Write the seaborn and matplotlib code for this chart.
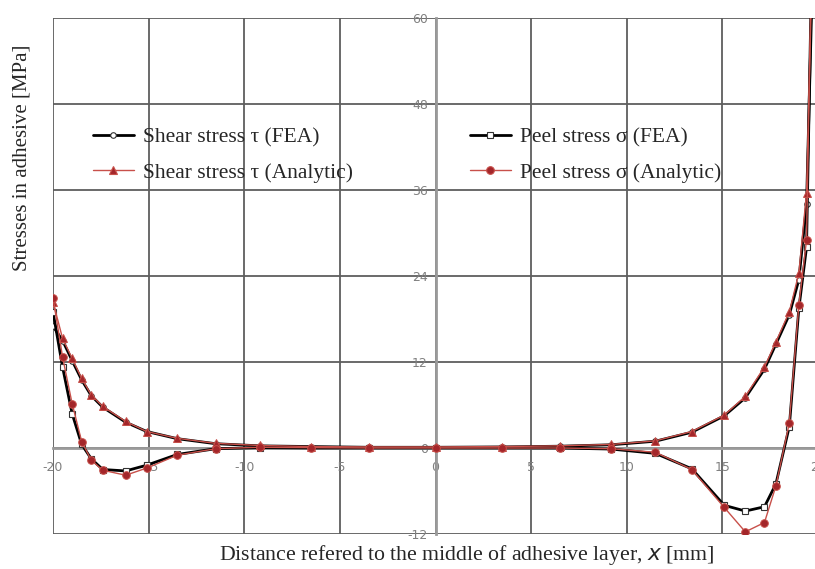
import matplotlib
matplotlib.use("Agg")
import matplotlib.pyplot as plt
from matplotlib.lines import Line2D
import seaborn as sns
import pandas as pd

# Position along the adhesive layer [mm]
x_mm = [-20, -19.5, -19, -18.5, -18, -17.4, -16.2, -15.1, -13.5, -11.5, -9.2,
        -6.5, -3.5, 0, 3.5, 6.5, 9.2, 11.5, 13.4, 15.1, 16.2, 17.2, 17.8,
        18.5, 19.0, 19.4, 20]

# Shear stress tau [MPa]
shear_fea = [17.0, 15.0, 12.2, 9.5, 7.3, 5.7, 3.6, 2.3, 1.3, 0.6, 0.3, 0.2,
             0.1, 0.1, 0.15, 0.25, 0.45, 0.95, 2.2, 4.5, 7.0, 11.0, 14.5,
             18.6, 23.5, 34.0, 95]
shear_analytic = [20.4, 15.3, 12.5, 9.7, 7.4, 5.8, 3.7, 2.3, 1.35, 0.65, 0.35,
                  0.2, 0.15, 0.15, 0.2, 0.3, 0.5, 1.0, 2.3, 4.6, 7.2, 11.3,
                  14.8, 19.0, 24.4, 35.6, 100]

# Peel stress sigma [MPa]
peel_fea = [19.0, 11.3, 4.8, 0.5, -1.5, -3.0, -3.2, -2.4, -0.9, -0.1, 0.05,
            0.0, 0.0, 0.0, 0.0, 0.0, -0.15, -0.75, -2.9, -8.0, -8.8, -8.2,
            -5.0, 3.0, 19.5, 28.0, 115]
peel_analytic = [21.0, 12.7, 6.2, 0.9, -1.7, -3.1, -3.8, -2.8, -1.0, -0.1,
                 0.1, 0.05, 0.0, 0.0, 0.0, 0.0, -0.1, -0.6, -3.0, -8.3, -11.7,
                 -10.4, -5.3, 3.5, 20.0, 29.0, 120]

x_ticks = [-20, -15, -10, -5, 0, 5, 10, 15, 20]
y_ticks = [-12, 0, 12, 24, 36, 48, 60]

labels = {
    "shear_fea": "Shear stress \u03c4 (FEA)",
    "shear_an": "Shear stress \u03c4 (Analytic)",
    "peel_fea": "Peel stress \u03c3 (FEA)",
    "peel_an": "Peel stress \u03c3 (Analytic)",
}

sns.set_theme(style="white")
plt.rcParams["font.family"] = ["Liberation Serif", "DejaVu Serif"]
plt.rcParams["axes.unicode_minus"] = False

RED_LINE = "#c8504a"
RED_FILL = "#a3262a"
GRID = "#5e5e5e"

fig = plt.figure(figsize=(8.15, 5.69), dpi=100)
ax = fig.add_axes([53 / 815, 35 / 569, 765 / 815, 516 / 569])

df = pd.DataFrame({"x": x_mm, "shear_fea": shear_fea, "shear_an": shear_analytic,
                   "peel_fea": peel_fea, "peel_an": peel_analytic})

# FEA curves: heavy black lines with open markers
sns.lineplot(data=df, x="x", y="shear_fea", ax=ax, sort=False, estimator=None,
             color="black", lw=2.0, marker="o", ms=4, mfc="white",
             mec="#333333", mew=0.8, zorder=3)
sns.lineplot(data=df, x="x", y="peel_fea", ax=ax, sort=False, estimator=None,
             color="black", lw=2.0, marker="s", ms=5, mfc="white",
             mec="#333333", mew=0.8, zorder=3)
# Analytic curves: thin red lines with filled markers
sns.lineplot(data=df, x="x", y="shear_an", ax=ax, sort=False, estimator=None,
             color=RED_LINE, lw=1.0, marker="^", ms=6, mfc=RED_FILL,
             mec=RED_LINE, mew=0.7, zorder=4)
sns.lineplot(data=df, x="x", y="peel_an", ax=ax, sort=False, estimator=None,
             color=RED_LINE, lw=1.0, marker="o", ms=5.5, mfc=RED_FILL,
             mec=RED_LINE, mew=0.7, zorder=4)

ax.set_xlim(-20, 20)
ax.set_ylim(-12, 60)
ax.set_xticks(x_ticks)
ax.set_yticks(y_ticks)
ax.set_xticklabels([str(v) for v in x_ticks])
ax.set_yticklabels([str(v) for v in y_ticks])
ax.set_xlabel("")
ax.set_ylabel("")

# Axes crossing at the origin, grid closing the plot area
ax.grid(True, color=GRID, lw=1.3)
ax.set_axisbelow(True)
for side in ("top", "right"):
    ax.spines[side].set_visible(False)
ax.spines["left"].set_position(("data", 0))
ax.spines["bottom"].set_position(("data", 0))
for side in ("left", "bottom"):
    ax.spines[side].set_color("#9a9a9a")
    ax.spines[side].set_linewidth(2.0)
    ax.spines[side].set_zorder(2)
ax.tick_params(axis="both", direction="inout", length=7, width=1.0,
               color="#8a8a8a", labelsize=9, labelcolor="#808080")
ax.tick_params(axis="x", pad=6)
ax.tick_params(axis="y", pad=2)
for t in ax.get_xticklabels() + ax.get_yticklabels():
    t.set_family("DejaVu Sans")

fig.text(22 / 815, 1 - 158 / 569, "Stresses in adhesive [MPa]", rotation=90,
         ha="center", va="center", fontsize=15)
fig.text(467 / 815, 1 - 555 / 569,
         "Distance refered to the middle of adhesive layer, $\\mathit{x}$ [mm]",
         ha="center", va="center", fontsize=15.7)


def handle(lc, lw, mk, ms, mfc, mec):
    return Line2D([], [], color=lc, lw=lw, marker=mk, ms=ms, mfc=mfc, mec=mec, mew=0.8)


left_handles = [handle("black", 2.0, "o", 4, "white", "#333333"),
                handle(RED_LINE, 1.0, "^", 5.5, RED_FILL, RED_LINE)]
right_handles = [handle("black", 2.0, "s", 5, "white", "#333333"),
                 handle(RED_LINE, 1.0, "o", 5.5, RED_FILL, RED_LINE)]

leg_kw = dict(loc="upper left", bbox_transform=fig.transFigure, frameon=False,
              fontsize=15.5, handlelength=1.9, handletextpad=0.4,
              labelspacing=0.72, borderpad=0, borderaxespad=0)
leg1 = ax.legend(left_handles, [labels["shear_fea"], labels["shear_an"]],
                 bbox_to_anchor=(93 / 815, 1 - 127 / 569), **leg_kw)
ax.add_artist(leg1)
ax.legend(right_handles, [labels["peel_fea"], labels["peel_an"]],
          bbox_to_anchor=(470 / 815, 1 - 127 / 569), **leg_kw)

fig.savefig("out.png", dpi=100)
